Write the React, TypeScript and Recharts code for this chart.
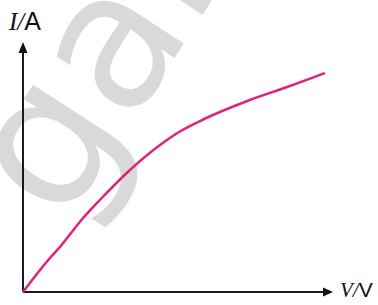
import React from 'react';
import { LineChart, Line, XAxis, YAxis, ReferenceDot, ReferenceLine, Customized } from 'recharts';

const voltage = [0, 0.55, 0.87, 1.19, 1.94, 2.48, 3.45, 4.42, 5.06, 5.81, 7.32, 8.52, 9.74];
const current = [0, 0.88, 1.36, 1.8, 2.96, 3.68, 4.88, 5.88, 6.42, 6.9, 7.68, 8.2, 8.76];
const xLabelItalic = 'V/';
const xLabelUnit = 'V';
const yLabelItalic = 'I/';
const yLabelUnit = 'A';
const watermark = 'gan';

const data = voltage.map((v, i) => ({ v, i: current[i] }));

const ArrowRight = (props: any) => {
  const { cx, cy } = props;
  return <path d={`M${cx},${cy} L${cx - 10},${cy - 4.5} L${cx - 10},${cy + 4.5} Z`} fill="#111" />;
};
const ArrowUp = (props: any) => {
  const { cx, cy } = props;
  return <path d={`M${cx},${cy} L${cx - 4.5},${cy + 11} L${cx + 4.5},${cy + 11} Z`} fill="#111" />;
};

const Watermark = () => (
  <g>
    <text
      transform="translate(64,228) rotate(-57)"
      fontFamily="DejaVu Sans, sans-serif"
      fontSize={190}
      fill="#d9d9d9"
    >
      {watermark}
    </text>
    <text x={9} y={30} fontSize={25} fill="#111">
      <tspan fontFamily="Liberation Serif, serif" fontStyle="italic">{yLabelItalic}</tspan>
      <tspan fontFamily="Liberation Sans, Arial, sans-serif">{yLabelUnit}</tspan>
    </text>
    <text x={340} y={297} fontSize={21} fill="#111">
      <tspan fontFamily="Liberation Serif, serif" fontStyle="italic">{xLabelItalic}</tspan>
      <tspan fontFamily="Liberation Sans, Arial, sans-serif">{xLabelUnit}</tspan>
    </text>
  </g>
);

export default function App() {
  return (
    <div style={{ position: 'absolute', left: 0, top: 0, background: '#fff' }}>
      <LineChart
        width={378}
        height={305}
        data={data}
        margin={{ top: 42, left: 23, right: 45, bottom: 13 }}
      >
        <Customized component={Watermark} />
        <XAxis type="number" dataKey="v" domain={[0, 10]} hide />
        <YAxis type="number" domain={[0, 10]} hide />
        <ReferenceLine
          segment={[{ x: 0, y: 0 }, { x: 9.8, y: 0 }]}
          stroke="#1a1a1a"
          strokeWidth={2}
          ifOverflow="visible"
        />
        <ReferenceLine
          segment={[{ x: 0, y: 0 }, { x: 0, y: 9.8 }]}
          stroke="#1a1a1a"
          strokeWidth={2}
          ifOverflow="visible"
        />
        <ReferenceDot x={10} y={0} r={0} shape={ArrowRight} ifOverflow="visible" />
        <ReferenceDot x={0} y={10} r={0} shape={ArrowUp} ifOverflow="visible" />
        <Line
          type="monotone"
          dataKey="i"
          stroke="#e0227f"
          strokeWidth={2.5}
          dot={false}
          isAnimationActive={false}
        />
      </LineChart>
    </div>
  );
}
